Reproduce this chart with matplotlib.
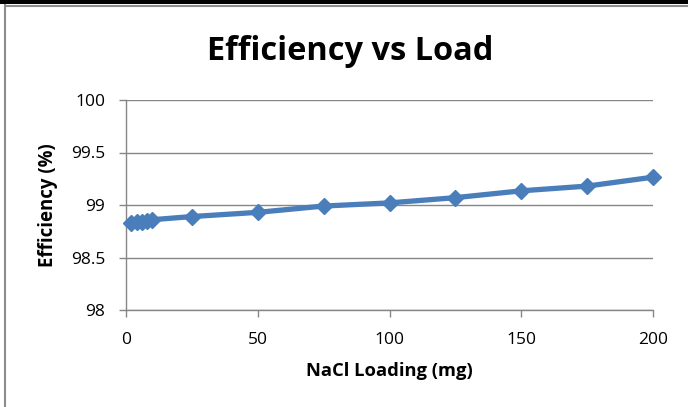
import matplotlib
matplotlib.use("Agg")
import matplotlib.pyplot as plt
from matplotlib.patches import Rectangle
from matplotlib.lines import Line2D

loading_mg = [2, 4, 6, 8, 10, 25, 50, 75, 100, 125, 150, 175, 200]
efficiency = [98.83, 98.835, 98.84, 98.85, 98.86, 98.89, 98.93, 98.99, 99.02, 99.07, 99.135, 99.18, 99.265]
x_ticks = [0, 50, 100, 150, 200]
y_ticks = [98, 98.5, 99, 99.5, 100]
y_tick_labels = ["98", "98.5", "99", "99.5", "100"]

plt.rcParams['font.family'] = ['Open Sans', 'DejaVu Sans']

W, H = 688, 407
fig = plt.figure(figsize=(W / 100, H / 100), dpi=100)
ax = fig.add_axes([126 / W, 1 - 310 / H, (653 - 126) / W, (310 - 100) / H])

grid_c = '#868686'
for y in y_ticks:
    ax.axhline(y, color=grid_c, lw=1.0, zorder=1)

blue = '#4A7EBB'
ax.plot(loading_mg, efficiency, color=blue, lw=3.8, marker='D', markersize=8.5,
        markerfacecolor=blue, markeredgecolor=blue, zorder=3, clip_on=False)

ax.set_xlim(0, 200)
ax.set_ylim(98, 100)
ax.set_xticks(x_ticks)
ax.set_xticklabels([str(v) for v in x_ticks])
ax.set_yticks(y_ticks)
ax.set_yticklabels(y_tick_labels)

for s in ['top', 'right']:
    ax.spines[s].set_visible(False)
for s in ['left', 'bottom']:
    ax.spines[s].set_color(grid_c)
    ax.spines[s].set_linewidth(1.0)
ax.tick_params(axis='both', colors=grid_c, length=5, width=1.0, labelsize=12.5,
               labelcolor='black', direction='out')
ax.tick_params(axis='y', pad=10)
ax.tick_params(axis='x', pad=11)

ax.set_ylabel('Efficiency (%)', fontsize=13.4, fontweight='bold', labelpad=9)
ax.set_xlabel('NaCl Loading (mg)', fontsize=13.2, fontweight='bold', labelpad=10)
fig.text(350 / W, 1 - 52 / H, 'Efficiency vs Load', fontsize=23.4, fontweight='bold',
         ha='center', va='center')

# frame decorations
fig.add_artist(Rectangle((0, 1 - 3.5 / H), 1, 3.5 / H, transform=fig.transFigure,
                         facecolor='black', edgecolor='none'))
fig.add_artist(Line2D([4.5 / W, 4.5 / W], [0, 1 - 5 / H], transform=fig.transFigure,
                      color='#8c8c8c', lw=1.5))
fig.add_artist(Line2D([4.5 / W, 1], [1 - 5.5 / H, 1 - 5.5 / H], transform=fig.transFigure,
                      color='#8c8c8c', lw=1.5))

fig.savefig('out.png', dpi=100)
